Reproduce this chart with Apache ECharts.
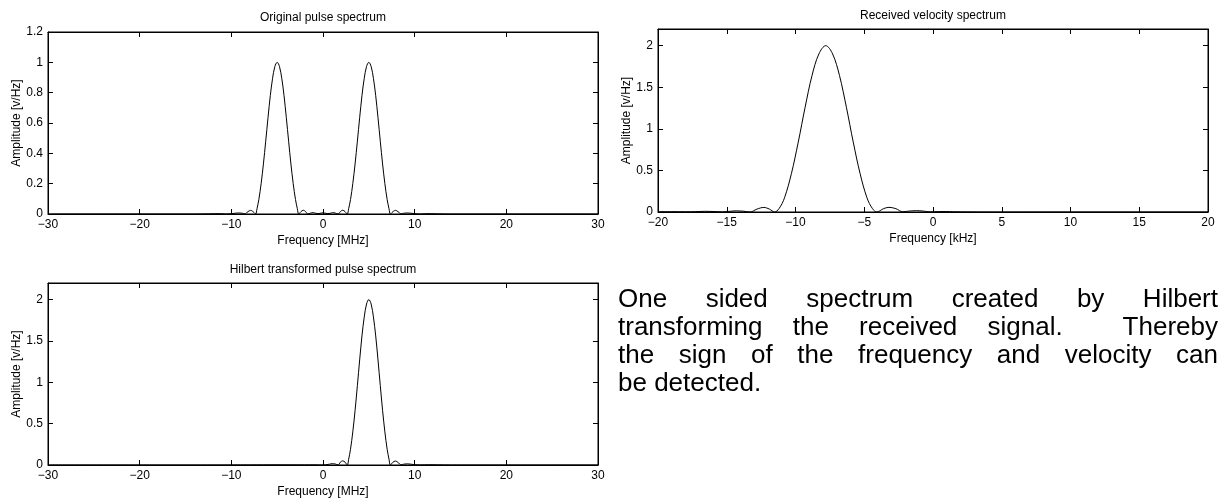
<!DOCTYPE html>
<html><head><meta charset="utf-8">
<script src="https://cdn.jsdelivr.net/npm/echarts@6/dist/echarts.min.js"></script>
<style>
html,body{margin:0;padding:0;background:#fff;}
#chart{position:absolute;left:0;top:0;width:1225px;height:500px;}
#note{position:absolute;left:618px;top:284px;width:600px;font-family:"Liberation Sans",Arial,sans-serif;font-size:26px;line-height:28px;color:#000;}
#note .j{display:block;text-align:justify;text-align-last:justify;white-space:nowrap;}
#note .l{display:block;text-align:left;}
</style></head><body>
<div id="chart"></div>
<div id="note"><span class="j">One sided spectrum created by Hilbert</span><span class="j">transforming the received signal.&nbsp; Thereby</span><span class="j">the sign of the frequency and velocity can</span><span class="l">be detected.</span></div>
<script>
// ---- Data ----
const origFreq = [-30,-14,-12.5,-11.8,-11.2,-10.6,-10.0,-9.6,-9.2,-8.8,-8.5,-8.2,-7.9,-7.6,-7.35,-7.2,-7.0,-6.75,-6.5,-6.25,-6.0,-5.75,-5.5,-5.25,-5.0,-4.75,-4.5,-4.25,-4.0,-3.75,-3.5,-3.25,-3.0,-2.8,-2.65,-2.4,-2.15,-1.9,-1.65,-1.35,-1.05,-0.75,-0.45,0,0.45,0.75,1.05,1.35,1.65,1.9,2.15,2.4,2.65,2.8,3.0,3.25,3.5,3.75,4.0,4.25,4.5,4.75,5.0,5.25,5.5,5.75,6.0,6.25,6.5,6.75,7.0,7.2,7.35,7.6,7.9,8.2,8.5,8.8,9.2,9.6,10.0,10.6,11.2,11.8,12.5,14,30];
const origAmp  = [0,0,0.001,0.002,0.002,0.0,0.002,0.005,0.007,0.005,0.001,0.015,0.024,0.014,0,0.035,0.095,0.2,0.33,0.48,0.635,0.78,0.895,0.973,1.0,0.973,0.895,0.78,0.635,0.48,0.33,0.2,0.095,0.035,0,0.016,0.025,0.016,0.0,0.006,0.009,0.004,0.003,0.008,0.003,0.004,0.009,0.006,0.0,0.016,0.025,0.016,0,0.035,0.095,0.2,0.33,0.48,0.635,0.78,0.895,0.973,1.0,0.973,0.895,0.78,0.635,0.48,0.33,0.2,0.095,0.035,0,0.014,0.024,0.015,0.001,0.005,0.007,0.005,0.002,0.0,0.002,0.002,0.001,0,0];

const velFreq = [-20,-19,-18,-17.3,-16.6,-16,-15.3,-14.8,-14.3,-13.8,-13.3,-12.8,-12.3,-11.9,-11.52,-11.2,-10.8,-10.3,-9.8,-9.3,-8.8,-8.3,-7.8,-7.3,-6.8,-6.3,-5.8,-5.3,-4.8,-4.4,-4.08,-3.6,-3.2,-2.7,-2.2,-1.7,-1.2,-0.7,-0.2,0.4,0.9,1.5,2.5,4,20];
const velAmp  = [0.003,0.004,0.003,0.004,0.008,0.006,0.002,0.008,0.014,0.01,0.0,0.035,0.055,0.035,0,0.04,0.17,0.46,0.84,1.26,1.64,1.9,2.0,1.9,1.64,1.26,0.84,0.46,0.17,0.04,0,0.04,0.056,0.04,0.003,0.012,0.016,0.011,0.002,0.005,0.006,0.003,0.001,0,0];

const hilbFreq = [-30,-12,-8,-5,-2,-1,0,0.3,0.7,1.0,1.35,1.65,1.9,2.15,2.4,2.65,2.8,3.0,3.25,3.5,3.75,4.0,4.25,4.5,4.75,5.0,5.25,5.5,5.75,6.0,6.25,6.5,6.75,7.0,7.2,7.35,7.6,7.9,8.2,8.5,8.8,9.2,9.6,10.0,10.6,11.5,12.5,14,30];
const hilbAmp  = [0,0,0.001,0.002,0.001,0.002,0.0,0.003,0.01,0.016,0.012,0.0,0.035,0.05,0.035,0,0.07,0.19,0.4,0.66,0.96,1.27,1.56,1.79,1.946,2.0,1.946,1.79,1.56,1.27,0.96,0.66,0.4,0.19,0.07,0,0.03,0.048,0.03,0.002,0.01,0.014,0.01,0.003,0.001,0.003,0.002,0,0];

const titles = ['Original pulse spectrum','Received velocity spectrum','Hilbert transformed pulse spectrum'];
const xNames = ['Frequency [MHz]','Frequency [kHz]','Frequency [MHz]'];
const yName = 'Amplitude [v/Hz]';
const xRanges = [[-30,30,10],[-20,20,5],[-30,30,10]];
const yRanges = [[0,1.2,0.2],[0,2.2,0.5],[0,2.2,0.5]];

// ---- Chart ----
const FONT = '"Liberation Sans", Arial, Helvetica, sans-serif';
const zip = (a,b) => a.map((v,i)=>[v,b[i]]);
const fmt = v => { const r = Math.round(v*1000)/1000; return r < 0 ? '\u2212' + String(-r) : String(r); };
const grids = [
  {left:48, top:32, width:550, height:182},
  {left:658, top:29, width:550, height:183},
  {left:48, top:283, width:550, height:182}
];
const titleY = [18, 16, 270];
const xAxis = [], yAxis = [], graphic = [];
grids.forEach((g,i)=>{
  const [xmin,xmax,xint] = xRanges[i];
  const [ymin,ymax,yint] = yRanges[i];
  const common = {type:'value', gridIndex:i, splitLine:{show:false},
    axisLine:{show:true, onZero:false, lineStyle:{color:'#000', width:1}},
    axisTick:{show:true, inside:true, length:5, lineStyle:{color:'#000', width:1}}};
  xAxis.push(Object.assign({}, common, {position:'bottom', min:xmin, max:xmax, interval:xint,
    name:xNames[i], nameLocation:'middle', nameGap:21,
    nameTextStyle:{fontFamily:FONT, fontSize:12, color:'#000'},
    axisLabel:{show:true, margin:5, fontFamily:FONT, fontSize:12, color:'#000', formatter:fmt}}));
  xAxis.push(Object.assign({}, common, {position:'top', min:xmin, max:xmax, interval:xint, axisLabel:{show:false}}));
  const yfmt = v => { const k = v/yint; return Math.abs(k-Math.round(k))<1e-6 ? fmt(v) : ''; };
  yAxis.push(Object.assign({}, common, {position:'left', min:ymin, max:ymax, interval:yint,
    name:yName, nameLocation:'middle', nameGap:23, nameRotate:90,
    nameTextStyle:{fontFamily:FONT, fontSize:12, color:'#000'},
    axisLabel:{show:true, margin:5, fontFamily:FONT, fontSize:12, color:'#000', formatter:yfmt}}));
  yAxis.push(Object.assign({}, common, {position:'right', min:ymin, max:ymax, interval:yint, axisLabel:{show:false}}));
  graphic.push({type:'text', x:g.left+g.width/2, y:titleY[i],
    style:{text:titles[i], fill:'#000', font:'12px ' + FONT, align:'center', verticalAlign:'middle'}});
});
const lineSeries = (data, idx) => ({type:'line', data, xAxisIndex:idx*2, yAxisIndex:idx*2,
  showSymbol:false, symbol:'none', smooth:0.35, clip:true, lineStyle:{color:'#000', width:1}, silent:true});
const chart = echarts.init(document.getElementById('chart'), null, {renderer:'canvas'});
chart.setOption({
  animation:false,
  backgroundColor:'#fff',
  grid: grids.map(g=>Object.assign({show:true, borderColor:'#000', borderWidth:1, backgroundColor:'transparent', containLabel:false}, g)),
  xAxis, yAxis, graphic,
  series:[lineSeries(zip(origFreq,origAmp),0), lineSeries(zip(velFreq,velAmp),1), lineSeries(zip(hilbFreq,hilbAmp),2)]
});
</script>
</body></html>
